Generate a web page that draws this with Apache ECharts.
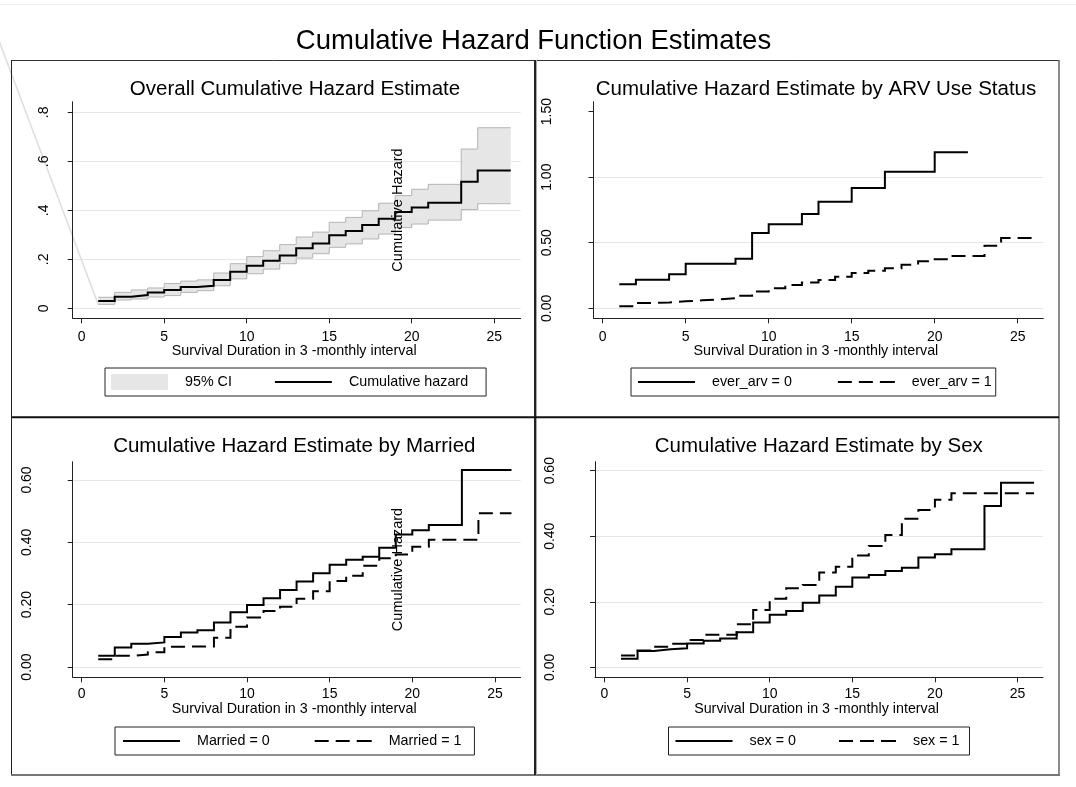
<!DOCTYPE html>
<html>
<head>
<meta charset="utf-8">
<script src="https://cdn.jsdelivr.net/npm/echarts@6/dist/echarts.min.js"></script>
<style>
  html, body { margin: 0; padding: 0; background: #fff; }
  #chart { width: 1076px; height: 787px; }
</style>
</head>
<body>
<div id="chart"></div>
<script>
// ---- Nelson–Aalen cumulative hazard estimates, time in 3-monthly intervals ----
const timeFull = [1, 2, 3, 4, 5, 6, 7, 8, 9, 10, 11, 12, 13, 14, 15, 16, 17, 18, 19, 20, 21, 22, 23, 24, 25, 26];

// Overall estimate with 95% confidence band
const overallHazard = [0.030, 0.047, 0.054, 0.064, 0.075, 0.087, 0.092, 0.116, 0.149, 0.174, 0.194, 0.216, 0.245,
                       0.265, 0.298, 0.316, 0.340, 0.366, 0.393, 0.411, 0.431, 0.431, 0.517, 0.562, 0.562, 0.562];
const overallUpper  = [0.045, 0.065, 0.075, 0.083, 0.101, 0.111, 0.116, 0.144, 0.182, 0.211, 0.235, 0.260, 0.291,
                       0.311, 0.351, 0.371, 0.398, 0.429, 0.460, 0.486, 0.506, 0.506, 0.650, 0.737, 0.737, 0.737];
const overallLower  = [0.016, 0.034, 0.038, 0.046, 0.052, 0.065, 0.072, 0.092, 0.120, 0.141, 0.160, 0.182, 0.205,
                       0.223, 0.249, 0.263, 0.283, 0.303, 0.329, 0.344, 0.360, 0.360, 0.403, 0.427, 0.427, 0.427];
// leftover edge of the band polygon running in from the top-left corner
const ciLeadLine = [[-5.5, 1.18], [1, 0.016]];

// By ARV use status (ever_arv = 0 follow-up ends at interval 22)
const arvNoTime = [1, 2, 3, 4, 5, 6, 7, 8, 9, 10, 11, 12, 13, 14, 15, 16, 17, 18, 19, 20, 21, 22];
const arvNo  = [0.183, 0.218, 0.218, 0.259, 0.340, 0.340, 0.340, 0.378, 0.574, 0.641, 0.641,
                0.719, 0.813, 0.813, 0.918, 0.918, 1.042, 1.042, 1.042, 1.190, 1.190, 1.190];
const arvYes = [0.015, 0.040, 0.045, 0.053, 0.061, 0.068, 0.076, 0.096, 0.129, 0.152, 0.178, 0.196, 0.216,
                0.241, 0.269, 0.287, 0.305, 0.333, 0.358, 0.374, 0.399, 0.399, 0.478, 0.536, 0.536, 0.536];

// By marital status
const marriedNo  = [0.036, 0.063, 0.075, 0.079, 0.096, 0.111, 0.118, 0.143, 0.176, 0.199, 0.221, 0.247, 0.274,
                    0.301, 0.328, 0.344, 0.354, 0.383, 0.425, 0.439, 0.456, 0.456, 0.632, 0.632, 0.632, 0.632];
const marriedYes = [0.025, 0.036, 0.040, 0.047, 0.065, 0.066, 0.066, 0.094, 0.129, 0.159, 0.180, 0.193, 0.219,
                    0.243, 0.276, 0.293, 0.325, 0.349, 0.361, 0.386, 0.408, 0.408, 0.408, 0.493, 0.493, 0.493];

// By sex
const sexZero = [0.026, 0.050, 0.055, 0.058, 0.073, 0.081, 0.088, 0.107, 0.137, 0.160, 0.172, 0.197, 0.219,
                 0.246, 0.274, 0.282, 0.294, 0.304, 0.335, 0.345, 0.360, 0.360, 0.492, 0.563, 0.563, 0.563];
const sexOne  = [0.036, 0.051, 0.063, 0.072, 0.083, 0.099, 0.099, 0.131, 0.175, 0.209, 0.241, 0.251, 0.289,
                 0.307, 0.341, 0.370, 0.404, 0.453, 0.480, 0.511, 0.531, 0.531, 0.531, 0.531, 0.531, 0.531];

// ---- ticks, labels and text ----
const xTicks = [0, 5, 10, 15, 20, 25];
const yTicksOverall  = [0, 0.2, 0.4, 0.6, 0.8];
const yLabelsOverall = ['0', '.2', '.4', '.6', '.8'];
const yTicksArv      = [0, 0.5, 1, 1.5];
const yLabelsArv     = ['0.00', '0.50', '1.00', '1.50'];
const yGridArv       = [0, 0.5, 1];
const yTicksShare    = [0, 0.2, 0.4, 0.6];
const yLabelsShare   = ['0.00', '0.20', '0.40', '0.60'];

const mainTitle = 'Cumulative Hazard Function Estimates';
const panelTitles = ['Overall Cumulative Hazard Estimate', 'Cumulative Hazard Estimate by ARV Use Status',
                     'Cumulative Hazard Estimate by Married', 'Cumulative Hazard Estimate by Sex'];
const xTitle = 'Survival Duration in 3 -monthly interval';
const yTitle = 'Cumulative Hazard';

// ---- styling ----
const FONT = '"Liberation Sans", Arial, Helvetica, sans-serif';
const INK = '#000';
const AXIS = '#222';
const GRID = '#e6e6e6';
const BAND_FILL = '#e6e6e6';
const BAND_EDGE = '#b4b4b4';
const DASH = [14, 7];
const ICON_SOLID  = 'path://M0,0M57,16M0,7h57v2h-57z';
const ICON_DASHED = 'path://M0,0M57,16M0,7h14v2h-14zM21,7h14v2h-14zM42,7h15v2h-15z';

const pairs = (xs, ys) => ys.map((v, i) => [xs[i], v]);
const labelOf = (ticks, labels) => v => {
  let best = 0;
  ticks.forEach((t, i) => { if (Math.abs(t - v) < Math.abs(ticks[best] - v)) best = i; });
  return labels[best];
};

function xAxisFor(gridIndex, min, max, labelMargin, nameGap) {
  return {
    type: 'value', gridIndex, min, max,
    name: xTitle, nameLocation: 'middle', nameGap, nameMoveOverlap: false,
    nameTextStyle: { fontFamily: FONT, fontSize: 14.3, color: INK, padding: [0, 5, 0, 0] },
    axisLine: { show: true, onZero: false, lineStyle: { color: AXIS, width: 1 } },
    axisTick: { show: true, length: 5, customValues: xTicks, lineStyle: { color: AXIS, width: 1 } },
    axisLabel: { customValues: xTicks, margin: labelMargin, fontFamily: FONT, fontSize: 14, color: INK },
    splitLine: { show: false }
  };
}

// The y title sits over the plotted curves, so the axis is raised above the series
function yAxisFor(gridIndex, min, max, ticks, labels, labelMargin, withTitle) {
  return {
    type: 'value', gridIndex, min, max, z: 10,
    name: withTitle ? yTitle : '', nameLocation: 'middle', nameRotate: 90, nameGap: -332.8, nameMoveOverlap: false,
    nameTextStyle: { fontFamily: FONT, fontSize: 14.5, color: INK },
    axisLine: { show: true, onZero: false, lineStyle: { color: AXIS, width: 1 } },
    axisTick: { show: true, length: 5, customValues: ticks, lineStyle: { color: AXIS, width: 1 } },
    axisLabel: { customValues: ticks, rotate: 90, margin: labelMargin, fontFamily: FONT, fontSize: 14, color: INK,
                 formatter: labelOf(ticks, labels) },
    splitLine: { show: false }
  };
}

function gridLines(values) {
  return {
    silent: true, z: 1, symbol: ['none', 'none'], animation: false,
    label: { show: false }, emphasis: { disabled: true },
    lineStyle: { color: GRID, width: 1, type: 'solid' },
    data: values.map(v => ({ yAxis: v }))
  };
}

function stepLine(name, idx, xs, ys, dashed, grid) {
  const s = {
    type: 'line', name, xAxisIndex: idx, yAxisIndex: idx, step: 'end',
    data: pairs(xs, ys), symbol: 'none', silent: true, z: 3,
    color: INK,
    lineStyle: { color: INK, width: 2, type: dashed ? DASH : 'solid', cap: 'butt', join: 'miter' }
  };
  if (grid) s.markLine = gridLines(grid);
  return s;
}

// Confidence band as stepped rectangles with outlined edges
function renderBand(params, api) {
  const i = params.dataIndex;
  if (i >= timeFull.length - 1) return null;
  const t0 = api.value(0), lo = api.value(1), hi = api.value(2);
  const t1 = timeFull[i + 1];
  const loNext = overallLower[i + 1], hiNext = overallUpper[i + 1];
  const a = api.coord([t0, hi]);
  const b = api.coord([t1, lo]);
  const overlap = i < timeFull.length - 2 ? 0.6 : 0;
  return {
    type: 'group',
    children: [
      { type: 'rect', z2: 0, shape: { x: a[0], y: a[1], width: b[0] - a[0] + overlap, height: b[1] - a[1] },
        style: { fill: BAND_FILL } },
      { type: 'polyline', z2: 1, shape: { points: [api.coord([t0, hi]), api.coord([t1, hi]), api.coord([t1, hiNext])] },
        style: { stroke: BAND_EDGE, lineWidth: 1, fill: null } },
      { type: 'polyline', z2: 1, shape: { points: [api.coord([t0, lo]), api.coord([t1, lo]), api.coord([t1, loNext])] },
        style: { stroke: BAND_EDGE, lineWidth: 1, fill: null } }
    ]
  };
}

function legendFor(left, top, padding, itemGap, items) {
  return {
    left, top, padding, itemGap, orient: 'horizontal',
    itemWidth: 57, itemHeight: 16, selectedMode: false,
    borderColor: '#222', borderWidth: 1, backgroundColor: '#fff',
    textStyle: { fontFamily: FONT, fontSize: 14.3, color: INK, padding: [0, 0, 0, 12] },
    data: items
  };
}
const lineItem = (name, dashed) => ({ name, icon: dashed ? ICON_DASHED : ICON_SOLID,
                                      itemStyle: { color: INK, borderWidth: 0 } });

const titleText = (text, x, y, size) => ({
  text, left: x, top: y, textAlign: 'center', padding: 0,
  textStyle: { fontFamily: FONT, fontSize: size, fontWeight: 'normal', color: INK }
});

const frameLine = (id, x1, y1, x2, y2, stroke, lineWidth) => ({
  type: 'line', id, silent: true, z: 100, shape: { x1, y1, x2, y2 }, style: { stroke, lineWidth }
});

const option = {
  animation: false,
  backgroundColor: '#fff',
  title: [
    titleText(mainTitle, 533.5, 27.5, 27.5),
    titleText(panelTitles[0], 295, 78.4, 20.5),
    titleText(panelTitles[1], 816, 78.4, 20.5),
    titleText(panelTitles[2], 294.3, 436, 20.5),
    titleText(panelTitles[3], 818.8, 436, 20.5)
  ],
  grid: [
    { left: 72.7, top: 101.7, width: 448, height: 216.6, outerBoundsMode: 'none' },
    { left: 593.5, top: 101.7, width: 449.8, height: 216.6, outerBoundsMode: 'none' },
    { left: 72.7, top: 461.7, width: 448, height: 215.6, outerBoundsMode: 'none' },
    { left: 595, top: 461.7, width: 448, height: 215.6, outerBoundsMode: 'none' }
  ],
  xAxis: [
    xAxisFor(0, -0.545, 26.606, 12, 26),
    xAxisFor(1, -0.554, 26.542, 12, 26),
    xAxisFor(2, -0.545, 26.558, 10, 24.5),
    xAxisFor(3, -0.575, 26.543, 10, 24.5)
  ],
  yAxis: [
    yAxisFor(0, -0.0408, 0.8433, yTicksOverall, yLabelsOverall, 22, true),
    yAxisFor(1, -0.0763, 1.5759, yTicksArv, yLabelsArv, 39, false),
    yAxisFor(2, -0.0330, 0.6587, yTicksShare, yLabelsShare, 39, true),
    yAxisFor(3, -0.0305, 0.6274, yTicksShare, yLabelsShare, 37.5, false)
  ],
  legend: [
    legendFor(105, 368, [6, 18, 6, 6], 43, [
      { name: '95% CI', icon: 'rect', itemStyle: { color: BAND_FILL, borderWidth: 0 } },
      lineItem('Cumulative hazard', false)
    ]),
    legendFor(631, 368, [6, 4, 6, 7], 46, [lineItem('ever_arv = 0', false), lineItem('ever_arv = 1', true)]),
    legendFor(115, 727, [6, 13, 6, 8], 45, [lineItem('Married = 0', false), lineItem('Married = 1', true)]),
    legendFor(668.5, 727, [6, 10, 6, 7], 43, [lineItem('sex = 0', false), lineItem('sex = 1', true)])
  ],
  series: [
    {
      type: 'custom', name: '95% CI', coordinateSystem: 'cartesian2d', xAxisIndex: 0, yAxisIndex: 0,
      data: timeFull.map((t, i) => [t, overallLower[i], overallUpper[i]]),
      encode: { x: 0, y: [1, 2] }, renderItem: renderBand, silent: true, z: 2,
      itemStyle: { color: BAND_FILL }
    },
    stepLine('Cumulative hazard', 0, timeFull, overallHazard, false, yTicksOverall),
    stepLine('ever_arv = 0', 1, arvNoTime, arvNo, false, yGridArv),
    stepLine('ever_arv = 1', 1, timeFull, arvYes, true),
    stepLine('Married = 0', 2, timeFull, marriedNo, false, yTicksShare),
    stepLine('Married = 1', 2, timeFull, marriedYes, true),
    stepLine('sex = 0', 3, timeFull, sexZero, false, yTicksShare),
    stepLine('sex = 1', 3, timeFull, sexOne, true)
  ]
};

const chart = echarts.init(document.getElementById('chart'), null, { renderer: 'canvas' });
chart.setOption(option);

// Panel frames, plus the band's lead-in edge which runs past the plot area
// (its ends are placed through the first panel's axes)
const leadStart = chart.convertToPixel({ gridIndex: 0 }, ciLeadLine[0]);
const leadEnd = chart.convertToPixel({ gridIndex: 0 }, ciLeadLine[1]);
chart.setOption({
  graphic: [
    { type: 'line', id: 'band-lead', silent: true, z: 0,
      shape: { x1: leadStart[0], y1: leadStart[1], x2: leadEnd[0], y2: leadEnd[1] },
      style: { stroke: '#dedede', lineWidth: 1.5 } },
    frameLine('page-rule', 0, 4.5, 1076, 4.5, '#ececec', 1),
    frameLine('frame-top', 11.5, 60.5, 1059, 60.5, '#333', 1),
    frameLine('frame-left', 11.5, 60, 11.5, 775, '#222', 1),
    frameLine('frame-right', 1059, 60, 1059, 775, '#666', 1.5),
    frameLine('frame-bottom', 11, 775, 1060, 775, '#777', 2),
    frameLine('divider-v', 535, 60, 535, 775, '#222', 2),
    frameLine('divider-v-shade', 536.5, 60, 536.5, 775, '#aaa', 1),
    frameLine('divider-h', 11.5, 417.3, 1059, 417.3, '#111', 2)
  ]
});
</script>
</body>
</html>
